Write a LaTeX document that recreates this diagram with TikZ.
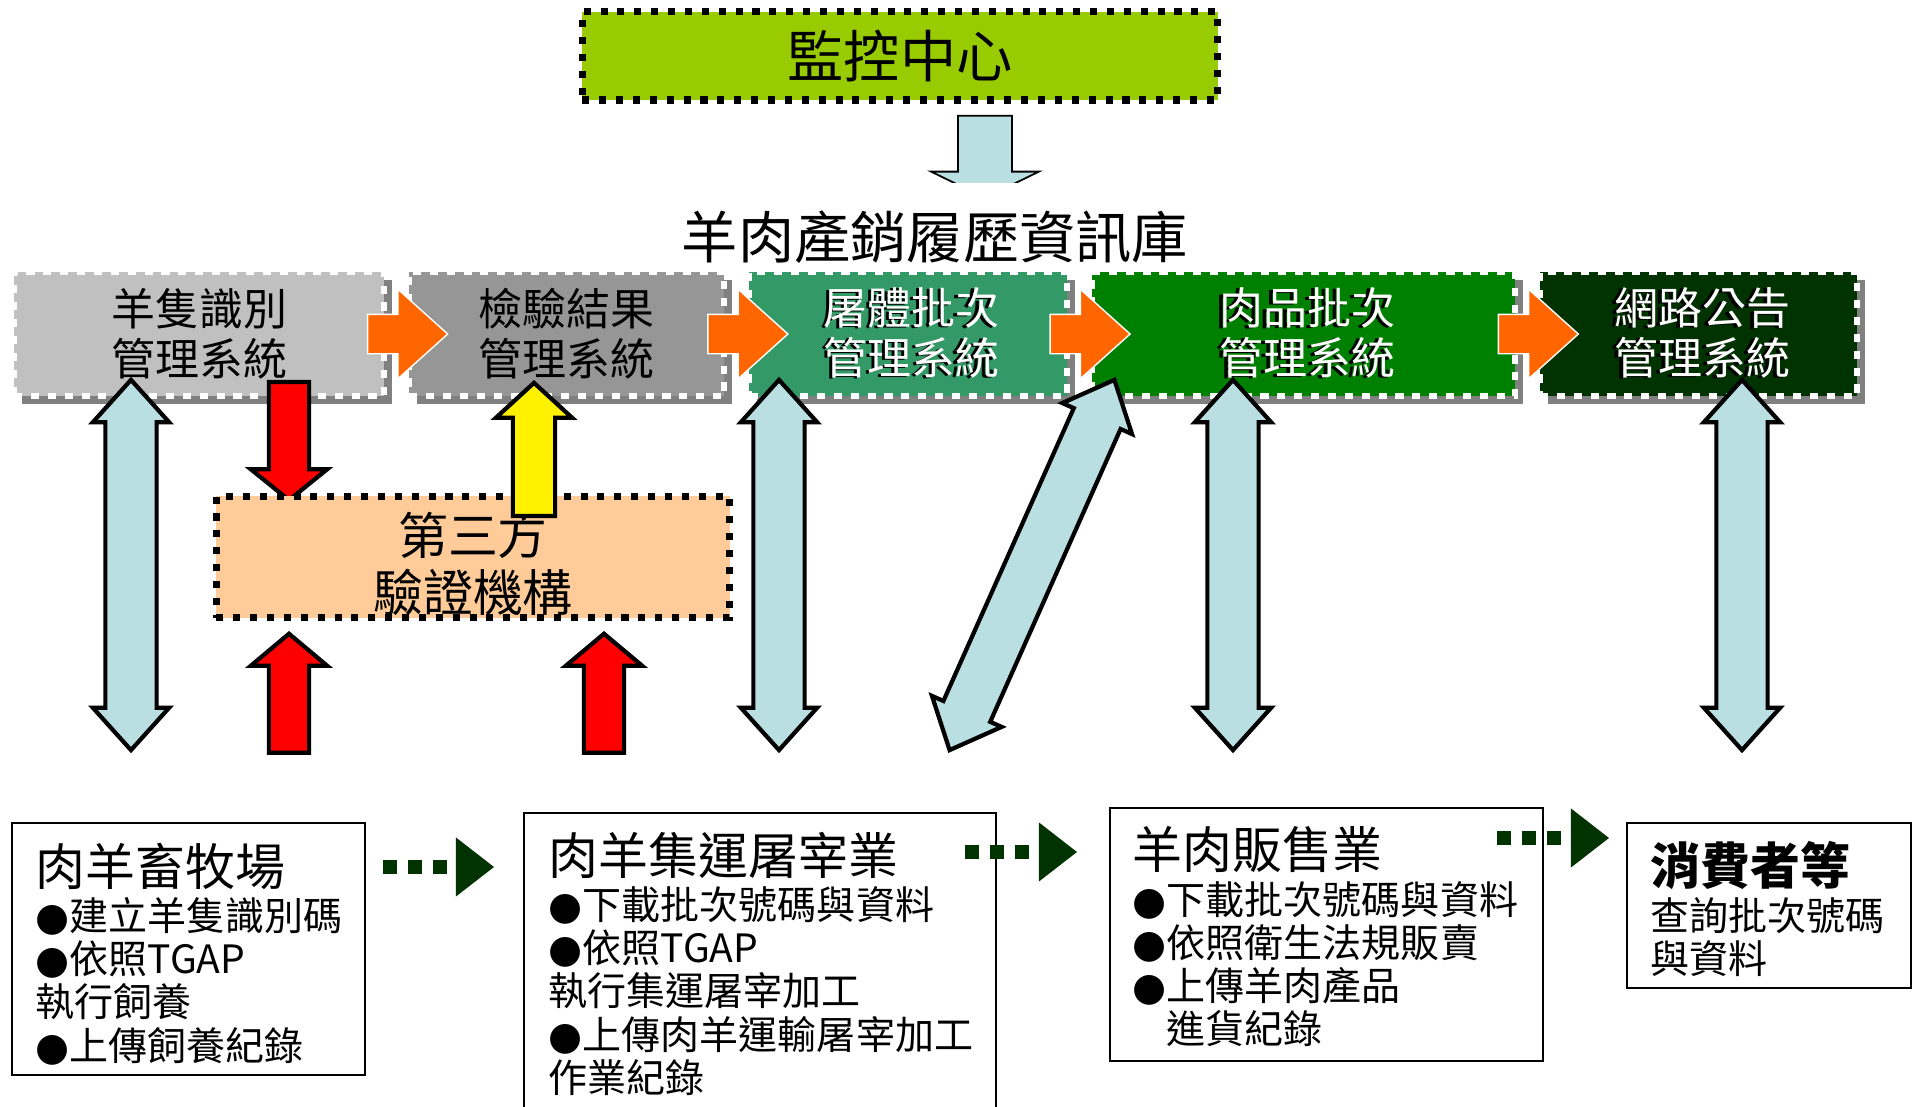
\documentclass[tikz,border=0pt]{standalone}
\usepackage{fontspec}
\setmainfont{Noto Sans CJK TC}
\newfontfamily\symfont{DejaVu Sans}
\usepackage{tikz}
\usetikzlibrary{shapes.arrows, arrows.meta, positioning, shadows}
\definecolor{monitor}{RGB}{153,204,0}
\definecolor{verify}{RGB}{255,204,153}
\definecolor{sysgray}{RGB}{192,192,192}
\definecolor{sysdark}{RGB}{150,150,150}
\definecolor{syssea}{RGB}{51,153,102}
\definecolor{sysgreen}{RGB}{0,128,0}
\definecolor{sysforest}{RGB}{0,51,0}
\definecolor{flow}{RGB}{255,102,0}
\definecolor{link}{RGB}{185,223,227}
\definecolor{chain}{RGB}{0,51,0}
\newcommand{\stagehead}[1]{{\fontsize{14.2pt}{14.2pt}\selectfont #1}}
\newcommand{\dotmark}{{\symfont ●}}
\tikzset{
    dotbox/.style={rectangle, draw=black, line width=2pt, dash pattern=on 2pt off 2.8pt, inner sep=0pt, outer sep=0pt, align=center},
    sysbox/.style={rectangle, minimum height=1.24cm, inner sep=0pt, outer sep=0pt, draw=white, line width=1.7pt, dash pattern=on 2.3pt off 2.5pt, general shadow={fill=gray, shadow xshift=0.08cm, shadow yshift=-0.08cm}, font=\fontsize{12.5pt}{14.2pt}\selectfont, align=center},
    emboss/.style={text=black, label={[draw=none, fill=none, text=white, font=\fontsize{12.5pt}{14.2pt}\selectfont, align=center, inner sep=0pt, xshift=1.1pt, yshift=0.4pt]center:#1}},
    flowarrow/.style={single arrow, fill=flow, draw=white, line width=0.4pt, minimum height=0.80cm, inner xsep=0pt, inner ysep=0.19cm, single arrow head extend=0.25cm, single arrow tip angle=84},
    linkarrow/.style={double arrow, fill=link, draw=black, line width=1.2pt, inner xsep=0pt, inner ysep=0.235cm, double arrow head extend=0.125cm, double arrow tip angle=84},
    pusharrow/.style={single arrow, draw=black, line width=1.2pt, inner xsep=0pt, inner ysep=0.18cm, single arrow head extend=0.18cm, single arrow tip angle=100},
    stagebox/.style={rectangle, draw=black, line width=0.6pt, inner sep=0pt, outer sep=0pt, anchor=north west},
    stagetext/.style={anchor=north west, align=left, inner sep=0pt, font=\fontsize{11.1pt}{12.3pt}\selectfont},
    chainarrow/.style={draw=chain, line width=3.8pt, dash pattern=on 4pt off 3.1pt, -{Triangle[length=0.38cm, width=0.59cm, line width=0pt]}}
}
\begin{document}
\begin{tikzpicture}[x=0.01cm, y=-0.01cm]
    \useasboundingbox (0,0) rectangle (1923,1107);
    \clip (0,0) rectangle (1923,1107);

    % Monitoring centre and database
    \node[dotbox, fill=monitor, minimum width=6.35cm, minimum height=0.88cm, font=\fontsize{16pt}{16pt}\selectfont] (monitor) at (900,56) {監控中心};
    \node[single arrow, fill=link, draw=black, line width=0.5pt, minimum height=0.82cm, inner xsep=0pt, inner ysep=0.26cm, single arrow head extend=0.27cm, single arrow tip angle=128, rotate=-90, anchor=tail] (feed) at (985,115) {};
    \node[fill=white, minimum height=1.08cm, inner sep=0pt, font=\fontsize{16pt}{16pt}\selectfont] (dbtitle) at (935,237) {羊肉產銷履歷資訊庫};

    % System row
    \node[sysbox, fill=sysgray, minimum width=3.70cm, anchor=north west] (sysid) at (14,272) {羊隻識別\\管理系統};
    \node[sysbox, fill=sysdark, minimum width=3.15cm, right=0.25cm of sysid] (sysinsp) {檢驗結果\\管理系統};
    \node[sysbox, fill=syssea, minimum width=3.17cm, right=0.25cm of sysinsp, emboss={屠體批次\\管理系統}] (syscarc) {屠體批次\\管理系統};
    \node[sysbox, fill=sysgreen, minimum width=4.23cm, right=0.25cm of syscarc, emboss={肉品批次\\管理系統}] (sysmeat) {肉品批次\\管理系統};
    \node[sysbox, fill=sysforest, minimum width=3.17cm, right=0.25cm of sysmeat, emboss={網路公告\\管理系統}] (sysweb) {網路公告\\管理系統};
    \path (sysid) -- node[flowarrow] (flow1) {} (sysinsp);
    \path (sysinsp) -- node[flowarrow] (flow2) {} (syscarc);
    \path (syscarc) -- node[flowarrow] (flow3) {} (sysmeat);
    \path (sysmeat) -- node[flowarrow] (flow4) {} (sysweb);

    % Third-party verification
    \node[pusharrow, fill=red, minimum height=1.18cm, single arrow tip angle=102, rotate=-90, anchor=tail] (order) at (289,380) {};
    \node[dotbox, fill=verify, minimum width=5.13cm, minimum height=1.21cm] (thirdparty) at (473,557) {};
    \node[font=\fontsize{14.2pt}{16pt}\selectfont, align=center] (thirdtxt) at ([yshift=-0.07cm]thirdparty.center) {第三方\\驗證機構};
    \node[pusharrow, fill=yellow, minimum height=1.33cm, inner ysep=0.19cm, single arrow head extend=0.17cm, single arrow tip angle=95, rotate=90, anchor=tip] (report) at (534,380) {};
    \node[pusharrow, fill=red, minimum height=1.19cm, rotate=90, anchor=tip] (sample1) at (289,631) {};
    \node[pusharrow, fill=red, minimum height=1.19cm, rotate=90, anchor=tip] (sample2) at (604,631) {};

    % Two-way links between systems and stages
    \node[linkarrow, minimum height=3.70cm, rotate=90] (link1) at (131,565) {};
    \node[linkarrow, minimum height=3.70cm, rotate=90] (link2) at (779,565) {};
    \node[linkarrow, minimum height=4.05cm, rotate=66] (link3) at (1032,565) {};
    \node[linkarrow, minimum height=3.70cm, rotate=90] (link4) at (1233,565) {};
    \node[linkarrow, minimum height=3.70cm, rotate=90] (link5) at (1742,565) {};

    % Supply chain stages
    \node[stagebox, minimum width=3.53cm, minimum height=2.52cm] (farm) at (12,823) {};
    \node[stagebox, minimum width=4.72cm, minimum height=3.20cm] (slaughter) at (524,813) {};
    \node[stagebox, minimum width=4.33cm, minimum height=2.53cm] (retail) at (1110,808) {};
    \node[stagebox, minimum width=2.84cm, minimum height=1.65cm] (consumer) at (1627,823) {};
    \node[stagetext] (farmtxt) at ([xshift=0.23cm, yshift=-0.19cm]farm.north west) {\stagehead{肉羊畜牧場}\\[0.6pt]\dotmark 建立羊隻識別碼\\\dotmark 依照TGAP\\執行飼養\\\dotmark 上傳飼養紀錄};
    \node[stagetext] (slaughtertxt) at ([xshift=0.24cm, yshift=-0.18cm]slaughter.north west) {\stagehead{肉羊集運屠宰業}\\[0.6pt]\dotmark 下載批次號碼與資料\\\dotmark 依照TGAP\\執行集運屠宰加工\\\dotmark 上傳肉羊運輸屠宰加工\\作業紀錄};
    \node[stagetext] (retailtxt) at ([xshift=0.22cm, yshift=-0.18cm]retail.north west) {\stagehead{羊肉販售業}\\[0.6pt]\dotmark 下載批次號碼與資料\\\dotmark 依照衛生法規販賣\\\dotmark 上傳羊肉產品\\\hphantom{\dotmark}進貨紀錄};
    \node[stagetext] (consumertxt) at ([xshift=0.23cm, yshift=-0.18cm]consumer.north west) {\stagehead{\bfseries 消費者等}\\[0.6pt]查詢批次號碼\\與資料};
    \draw[chainarrow, shorten <=0.18cm, shorten >=0.30cm] (farm.east |- 0,867) -- (slaughter.west |- 0,867);
    \draw[chainarrow, shorten <=-0.31cm, shorten >=0.33cm] (slaughter.east |- 0,852) -- (retail.west |- 0,852);
    \draw[chainarrow, shorten <=-0.46cm, shorten >=0.18cm] (retail.east |- 0,838) -- (consumer.west |- 0,838);
\end{tikzpicture}
\end{document}
